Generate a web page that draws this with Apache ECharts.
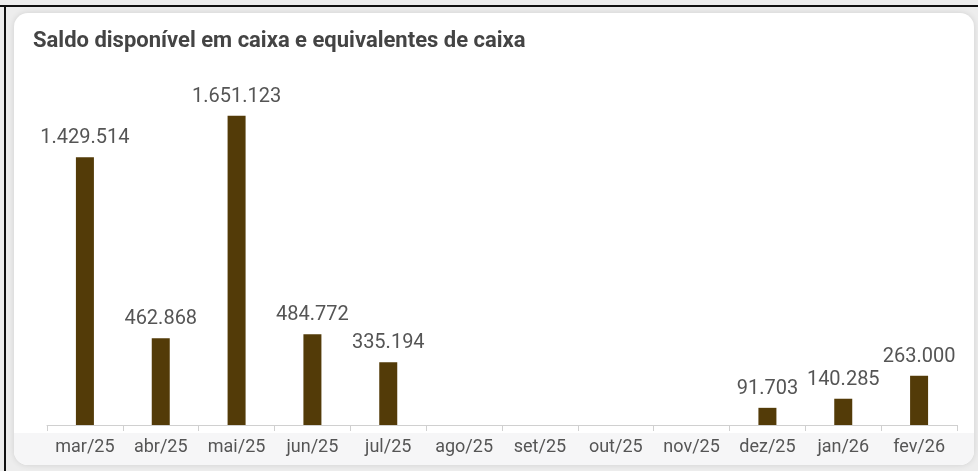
<!DOCTYPE html>
<html>
<head>
<meta charset="utf-8">
<script src="https://cdn.jsdelivr.net/npm/echarts@6/dist/echarts.min.js"></script>
<style>
html,body{margin:0;padding:0;background:#fff;}
#chart{width:978px;height:471px;}
</style>
</head>
<body>
<div id="chart"></div>
<script>
const categories = ['mar/25','abr/25','mai/25','jun/25','jul/25','ago/25','set/25','out/25','nov/25','dez/25','jan/26','fev/26'];
const saldo = [1429514, 462868, 1651123, 484772, 335194, null, null, null, null, 91703, 140285, 263000];
const titleText = 'Saldo disponível em caixa e equivalentes de caixa';

function fmt(v){
  return String(v).replace(/\B(?=(\d{3})+(?!\d))/g, '.');
}

const chart = echarts.init(document.getElementById('chart'), null, {renderer:'canvas'});
chart.setOption({
  animation:false,
  backgroundColor:'#ededed',
  title:{
    text:titleText,
    left:28, top:25,
    textStyle:{fontFamily:'Roboto', fontWeight:'bold', fontSize:22, color:'#444'}
  },
  graphic:[
    {type:'rect', z:-10, shape:{x:14,y:13,width:960,height:452,r:14}, style:{fill:'#ffffff', shadowBlur:6, shadowColor:'rgba(0,0,0,0.12)'}},
    {type:'rect', z:-9, shape:{x:14,y:433,width:960,height:32,r:[0,0,14,14]}, style:{fill:'#f6f6f7'}},
    {type:'rect', z:-8, shape:{x:0,y:5,width:978,height:2}, style:{fill:'#111'}},
    {type:'rect', z:-8, shape:{x:4,y:5,width:2,height:466}, style:{fill:'#111'}}
  ],
  grid:{left:47, right:21, top:88, bottom:46, containLabel:false},
  xAxis:{
    type:'category',
    data:categories,
    axisLine:{lineStyle:{color:'#d0d0d0'}},
    axisTick:{show:true, length:6, lineStyle:{color:'#d0d0d0'}},
    axisLabel:{interval:0, hideOverlap:false, fontFamily:'Roboto', fontSize:18, color:'#555', margin:13}
  },
  yAxis:{
    type:'value', min:0, max:1800000, show:false,
    splitLine:{show:false}
  },
  series:[{
    type:'bar',
    data:saldo,
    barWidth:18,
    itemStyle:{color:'#533b08'},
    label:{
      show:true, position:'top', distance:9,
      fontFamily:'Roboto', fontSize:20, color:'#555',
      formatter:p => p.value == null ? '' : fmt(p.value)
    }
  }]
});
</script>
</body>
</html>
